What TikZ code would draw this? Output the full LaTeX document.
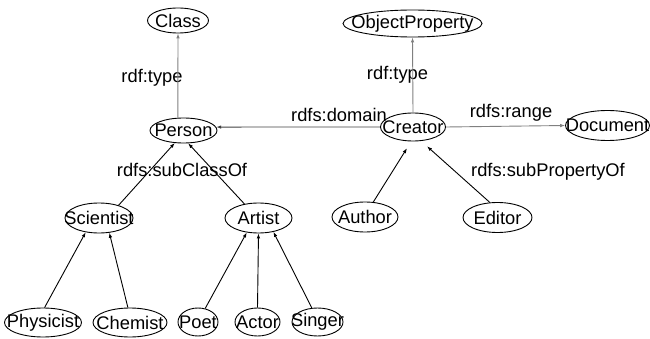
\documentclass[tikz,border=0pt]{standalone}
\usepackage{fontspec}
\setmainfont{Liberation Sans}
\usepackage{tikz}
\usetikzlibrary{shapes.geometric}
\usetikzlibrary{arrows.meta}

\begin{document}
\begin{tikzpicture}[x=1pt, y=-1pt, font=\fontsize{18.3}{21}\selectfont,
		entity/.style={draw, ellipse, inner sep=0pt, line width=0.9pt},
		rel/.style={line width=0.9pt, -{Latex[length=5pt, width=3.6pt]}},
		grayrel/.style={rel, color=gray}]
			\useasboundingbox (0, 0) rectangle (650, 339);
			% classes
			\node[entity, minimum width=61, minimum height=25, label=center:Class] (class) at (178, 20.5) {};
			\node[entity, minimum width=67, minimum height=25, label=center:Person] (person) at (183.5, 130.5) {};
			\node[entity, minimum width=68, minimum height=30, label=center:Scientist] (scientist) at (99, 218) {};
			\node[entity, minimum width=67, minimum height=30, label=center:Artist] (artist) at (258.5, 218) {};
			\node[entity, minimum width=77, minimum height=29, label=center:Physicist] (physicist) at (43, 322.5) {};
			\node[entity, minimum width=74, minimum height=29, label=center:Chemist] (chemist) at (130, 322.5) {};
			\node[entity, minimum width=40, minimum height=28, label=center:Poet] (poet) at (198, 322) {};
			\node[entity, minimum width=45, minimum height=28, label=center:Actor] (actor) at (257.5, 322) {};
			\node[entity, minimum width=51, minimum height=28, label=center:Singer] (singer) at (317.5, 322) {};
			% properties
			\node[entity, minimum width=139, minimum height=27, label=center:ObjectProperty] (objprop) at (412.5, 23.5) {};
			\node[entity, minimum width=65, minimum height=28, label=center:Creator] (creator) at (413, 127) {};
			\node[entity, minimum width=84, minimum height=30, label=center:Document] (document) at (607.5, 125.5) {};
			\node[entity, minimum width=66, minimum height=30, label=center:Author] (author) at (365, 217) {};
			\node[entity, minimum width=69, minimum height=30, label=center:Editor] (editor) at (497.5, 217.5) {};
			% relation labels
			\node[anchor=base] (typeleft) at (152, 83) {rdf:type};
			\node[anchor=base] (typeright) at (397.5, 80) {rdf:type};
			\node[anchor=base] (domain) at (339, 122) {rdfs:domain};
			\node[anchor=base] (range) at (511, 118) {rdfs:range};
			\node[anchor=base] (subclass) at (182, 177) {rdfs:subClassOf};
			\node[anchor=base] (subprop) at (548, 177) {rdfs:subPropertyOf};
			% edges
			\draw[grayrel] (person.114) -- (class.south);
			\draw[grayrel] (creator.north) -- (objprop.south);
			\draw[grayrel] (creator.east) -- (document.west);
			\draw[rel, color=black!75] (creator.west) -- (person.6);
			\draw[rel] (scientist.33) -- (person.-125);
			\draw[rel] (artist.135) -- (person.-70);
			\draw[rel] (physicist.84) -- (scientist.-133);
			\draw[rel] (chemist.98) -- (scientist.-55);
			\draw[rel] (poet.62) -- (artist.-129);
			\draw[rel] (actor.north) -- (artist.south);
			\draw[rel] (singer.112) -- (artist.-43);
			\draw[rel, shorten >=8pt] (author.61) -- (creator.-97);
			\draw[rel, shorten >=8pt] (editor.117) -- (creator.-60);
		\end{tikzpicture}
\end{document}
